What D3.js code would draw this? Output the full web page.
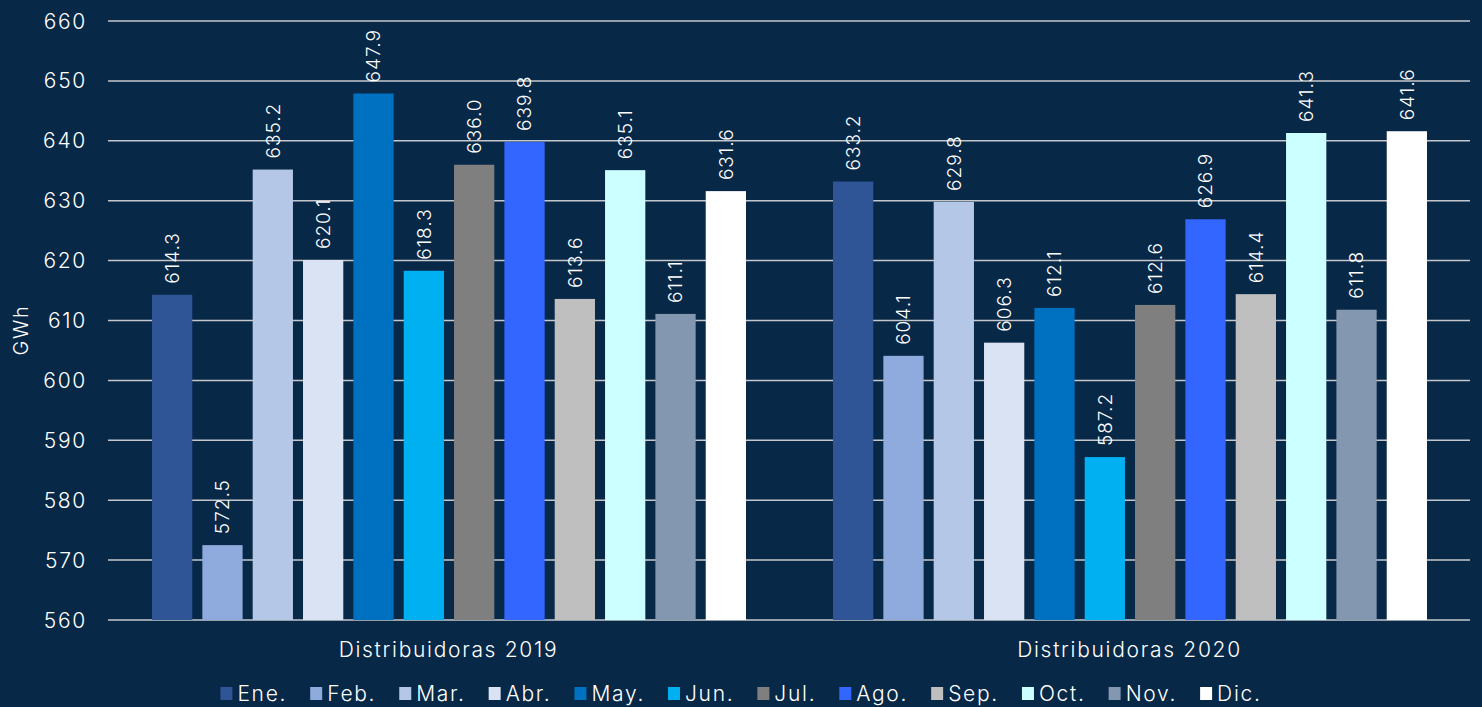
<!DOCTYPE html>
<meta charset="utf-8">
<script src="https://d3js.org/d3.v7.min.js"></script>
<style>
  body { margin: 0; background: #082847; }
  svg { display: block; font-family: Inter, "DejaVu Sans", sans-serif; font-weight: 300; }
  .grid line { stroke: #c4c8cc; stroke-width: 1.5px; }
  text { fill: #ffffff; letter-spacing: 1.7px; }
  text.lbl { letter-spacing: 1px; }
</style>
<body>
<div id="chart"></div>
<script>
  const width = 1482, height = 707;

  // data
  const groups = ["Distribuidoras 2019", "Distribuidoras 2020"];
  const months = ["Ene.", "Feb.", "Mar.", "Abr.", "May.", "Jun.", "Jul.", "Ago.", "Sep.", "Oct.", "Nov.", "Dic."];
  const colors = ["#2F5597", "#8FAADC", "#B4C7E7", "#DAE3F3", "#0070C0", "#00B0F0",
                  "#7F7F7F", "#3366FF", "#BFBFBF", "#CCFFFF", "#8497B0", "#FFFFFF"];
  const values2019 = [614.3, 572.5, 635.2, 620.1, 647.9, 618.3, 636.0, 639.8, 613.6, 635.1, 611.1, 631.6];
  const values2020 = [633.2, 604.1, 629.8, 606.3, 612.1, 587.2, 612.6, 626.9, 614.4, 641.3, 611.8, 641.6];
  const yTicks = [560, 570, 580, 590, 600, 610, 620, 630, 640, 650, 660];

  const series = [values2019, values2020];

  const svg = d3.select("#chart").append("svg")
    .attr("width", width)
    .attr("height", height);

  const plot = { left: 108, right: 1470, top: 21, bottom: 620 };

  const x0 = d3.scaleBand().domain(groups).range([plot.left, plot.right]).padding(0);
  const x1 = d3.scaleBand().domain(months)
    .range([44, x0.bandwidth() - 43])
    .paddingInner(0.2).paddingOuter(0);
  const y = d3.scaleLinear().domain([560, 660]).range([plot.bottom, plot.top]);

  // grid
  svg.append("g").attr("class", "grid")
    .selectAll("line").data(yTicks).enter().append("line")
    .attr("x1", plot.left).attr("x2", plot.right)
    .attr("y1", d => y(d)).attr("y2", d => y(d));

  // y tick labels
  svg.append("g").selectAll("text").data(yTicks).enter().append("text")
    .attr("x", 87).attr("y", d => y(d))
    .attr("dy", "0.36em")
    .attr("text-anchor", "end")
    .style("font-size", "21px")
    .text(d => d);

  svg.append("text")
    .attr("transform", "translate(28,330) rotate(-90)")
    .attr("text-anchor", "middle")
    .style("font-size", "20px")
    .text("GWh");

  // bars
  const fmt = d3.format(".1f");
  groups.forEach((g, gi) => {
    const gg = svg.append("g").attr("transform", `translate(${x0(g)},0)`);
    const rows = months.map((m, i) => ({ m: m, v: series[gi][i], c: colors[i] }));
    gg.selectAll("rect").data(rows).enter().append("rect")
      .attr("x", d => x1(d.m))
      .attr("width", x1.bandwidth())
      .attr("y", d => y(d.v))
      .attr("height", d => y(560) - y(d.v))
      .attr("fill", d => d.c);
    gg.selectAll("text.lbl").data(rows).enter().append("text")
      .attr("class", "lbl")
      .attr("transform", d => `translate(${x1(d.m) + x1.bandwidth() / 2},${y(d.v) - 11}) rotate(-90)`)
      .attr("dy", "0.36em")
      .style("font-size", "19px")
      .text(d => fmt(d.v));
    svg.append("text")
      .attr("x", x0(g) + x0.bandwidth() / 2)
      .attr("y", 657)
      .attr("text-anchor", "middle")
      .style("font-size", "21px")
      .text(g);
  });

  // legend
  const legend = svg.append("g");
  const items = legend.selectAll("g").data(months).enter().append("g");
  items.append("rect").attr("width", 12).attr("height", 13).attr("y", -14)
    .attr("fill", (d, i) => colors[i]);
  items.append("text").attr("x", 17).style("font-size", "21px").text(d => d);
  let cx = 0;
  const gap = 23;
  items.each(function() {
    const w = this.getBBox().width;
    d3.select(this).attr("transform", `translate(${cx},701)`);
    cx += w + gap;
  });
  cx -= gap;
  legend.attr("transform", `translate(${741 - cx / 2},0)`);
</script>
</body>
